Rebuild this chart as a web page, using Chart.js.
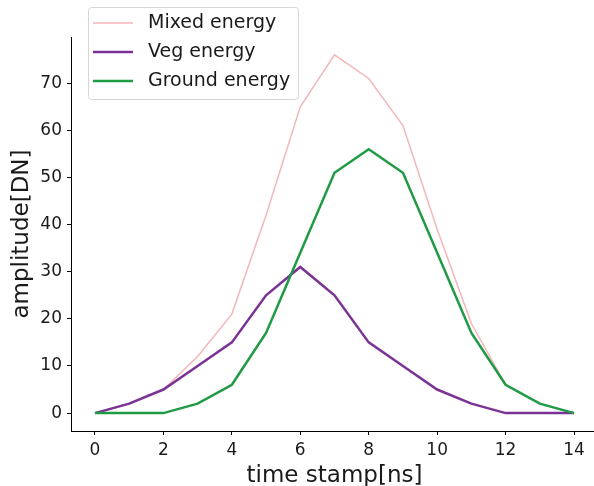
<!DOCTYPE html>
<html>
<head>
<meta charset="utf-8">
<script src="https://cdn.jsdelivr.net/npm/chart.js@4.4.0/dist/chart.umd.min.js"></script>
<style>
  html, body { margin: 0; padding: 0; background: #fff; overflow: hidden; }
  #wrap { width: 598px; height: 486px; }
</style>
</head>
<body>
<div id="wrap"><canvas id="waveChart"></canvas></div>
<script>
const timeStamps = [0, 1, 2, 3, 4, 5, 6, 7, 8, 9, 10, 11, 12, 13, 14];
const mixedEnergy = [0, 2, 5, 12, 21, 42, 65, 76, 71, 61, 39, 19, 6, 2, 0];
const vegEnergy = [0, 2, 5, 10, 15, 25, 31, 25, 15, 10, 5, 2, 0, 0, 0];
const groundEnergy = [0, 0, 0, 2, 6, 17, 34, 51, 56, 51, 34, 17, 6, 2, 0];
const xTicks = [0, 2, 4, 6, 8, 10, 12, 14];
const yTicks = [0, 10, 20, 30, 40, 50, 60, 70];

const FONT = "'DejaVu Sans', sans-serif";

function pts(ys) {
    return ys.map((y, i) => ({ x: timeStamps[i], y: y }));
}

// matplotlib-style legend box in the upper left
const boxLegend = {
    id: "boxLegend",
    afterDraw(chart) {
        const c = chart.ctx;
        const items = [0, 1, 2].map(i => chart.data.datasets[i]);
        const x0 = 88, y0 = 7, w = 210, h = 92;
        c.save();
        c.beginPath();
        c.roundRect(x0 + 0.5, y0 + 0.5, w, h, 3);
        c.fillStyle = "rgba(255,255,255,0.8)";
        c.fill();
        c.strokeStyle = "#d6d6d6";
        c.lineWidth = 1;
        c.stroke();
        c.font = "19px " + FONT;
        c.textBaseline = "middle";
        items.forEach((ds, i) => {
            const yy = 23 + i * 29;
            c.beginPath();
            c.moveTo(93, yy);
            c.lineTo(133, yy);
            c.strokeStyle = ds.borderColor;
            c.lineWidth = ds.borderWidth;
            c.stroke();
            c.fillStyle = "#1a1a1a";
            c.fillText(ds.label, 148, yy);
        });
        c.restore();
    }
};

new Chart(document.getElementById("waveChart"), {
    type: "line",
    data: {
        datasets: [{
            label: "Mixed energy",
            data: pts(mixedEnergy),
            borderColor: "#f4b6b9",
            borderWidth: 1.5,
            pointRadius: 0,
            tension: 0,
            order: 3
        }, {
            label: "Veg energy",
            data: pts(vegEnergy),
            borderColor: "#7b3294",
            borderWidth: 2.5,
            pointRadius: 0,
            tension: 0,
            order: 2
        }, {
            label: "Ground energy",
            data: pts(groundEnergy),
            borderColor: "#1f9a45",
            borderWidth: 2.5,
            pointRadius: 0,
            tension: 0,
            order: 1
        }]
    },
    options: {
        responsive: true,
        maintainAspectRatio: false,
        animation: false,
        layout: { padding: { top: 37, right: 0, left: 0, bottom: 0 } },
        plugins: {
            legend: { display: false },
            tooltip: { enabled: false }
        },
        scales: {
            x: {
                type: "linear",
                min: -0.7,
                max: 14.7,
                afterBuildTicks: s => { s.ticks = xTicks.map(v => ({ value: v })); },
                afterFit: s => { s.height = 55; },
                grid: { drawOnChartArea: false, drawTicks: true, tickLength: 4, color: "#000" },
                border: { display: true, color: "#000", width: 1 },
                ticks: { color: "#1a1a1a", font: { family: FONT, size: 17 }, padding: 5, maxRotation: 0 },
                title: { display: true, text: "time stamp[ns]", color: "#1a1a1a", font: { family: FONT, size: 23 }, padding: { top: 0, bottom: -4 } }
            },
            y: {
                min: -3.8,
                max: 79.8,
                afterBuildTicks: s => { s.ticks = yTicks.map(v => ({ value: v })); },
                afterFit: s => { s.width = 71; },
                grid: { drawOnChartArea: false, drawTicks: true, tickLength: 4, color: "#000" },
                border: { display: true, color: "#000", width: 1 },
                ticks: { color: "#1a1a1a", font: { family: FONT, size: 17 }, padding: 5 },
                title: { display: true, text: "amplitude[DN]", color: "#1a1a1a", font: { family: FONT, size: 23 }, padding: { top: 8, bottom: 0 } }
            }
        }
    },
    plugins: [boxLegend]
});
</script>
</body>
</html>
